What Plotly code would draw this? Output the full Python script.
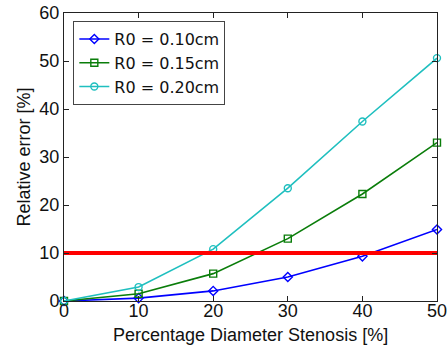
import plotly.graph_objects as go

stenosis = [0, 10, 20, 30, 40, 50]
err_r010 = [0.0, 0.6, 2.1, 5.0, 9.3, 14.9]
err_r015 = [0.0, 1.5, 5.7, 13.0, 22.3, 33.0]
err_r020 = [0.0, 2.9, 10.8, 23.5, 37.4, 50.6]
threshold = 10
x_ticks = [0, 10, 20, 30, 40, 50]
y_ticks = [0, 10, 20, 30, 40, 50, 60]
x_title = "Percentage Diameter Stenosis [%]"
y_title = "Relative error [%]"

FONT = "Liberation Sans, Arial"

fig = go.Figure()
series = [
    ("R0 = 0.10cm", err_r010, "#0000ff", "diamond-open"),
    ("R0 = 0.15cm", err_r015, "#0a7d0a", "square-open"),
    ("R0 = 0.20cm", err_r020, "#1fbfbf", "circle-open"),
]
for name, ys, col, sym in series:
    fig.add_trace(go.Scatter(
        x=stenosis, y=ys, name=name, mode="lines+markers",
        line=dict(color=col, width=1.6), cliponaxis=False,
        marker=dict(symbol=sym, size=7, color=col, line=dict(color=col, width=1.4)),
    ))

fig.add_trace(go.Scatter(
    x=[stenosis[0], stenosis[-1]], y=[threshold, threshold], mode="lines",
    line=dict(color="#ff0000", width=4), showlegend=False,
))

axis_common = dict(
    showgrid=False, zeroline=False, showline=True, linecolor="#222222", linewidth=1,
    mirror="ticks", ticks="inside", ticklen=5, tickcolor="#222222", automargin=False,
    ticklabeloverflow="allow",
    tickfont=dict(family=FONT, size=18, color="#111111"),
)
fig.update_xaxes(range=[0, 50], tickvals=x_ticks, ticklabelstandoff=-7, **axis_common)
fig.update_yaxes(range=[0, 60], tickvals=y_ticks, title=dict(
    text=y_title, standoff=4,
    font=dict(family=FONT, size=18, color="#111111")), **axis_common)

fig.add_annotation(
    text=x_title, xref="paper", yref="paper", x=0.5, y=-0.118,
    xanchor="center", yanchor="middle", showarrow=False,
    font=dict(family=FONT, size=18, color="#111111"),
)

fig.update_layout(
    width=448, height=349,
    margin=dict(l=64, r=11, t=13, b=48),
    plot_bgcolor="white", paper_bgcolor="white",
    legend=dict(x=0.025, y=0.972, xanchor="left", yanchor="top",
                bordercolor="#444444", borderwidth=1, bgcolor="white",
                font=dict(family="DejaVu Sans", size=16, color="#111111"),
                tracegroupgap=0, itemwidth=30),
)

# remove the browser's default 8px body margin so the figure fills the window
fig.write_html("out.html", config={"displayModeBar": False},
               post_script="document.body.style.margin='0';")
